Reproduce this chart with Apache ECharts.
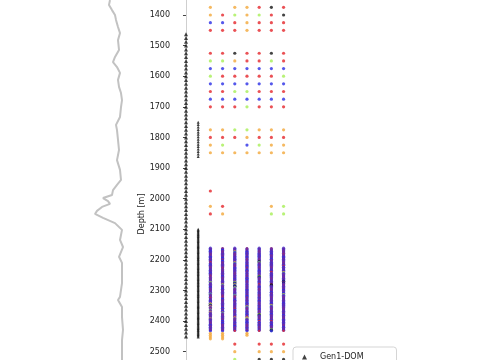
<!DOCTYPE html>
<html><head><meta charset="utf-8">
<script src="https://cdn.jsdelivr.net/npm/echarts@6/dist/echarts.min.js"></script>
<style>html,body{margin:0;padding:0;background:#fff}#c{width:485px;height:360px}</style>
</head><body><div id="c"></div>
<script>
// ---- log track (left) ----
const logDepth = [1351,1367,1384,1400,1416,1439,1459,1482,1514,1537,1554,1570,1589,1612,1635,1655,1678,1701,1733,1759,1776,1808,1841,1874,1906,1939,1955,1972,1988,1998,2008,2017,2027,2040,2050,2063,2080,2102,2135,2158,2190,2210,2243,2276,2321,2331,2354,2387,2429,2462,2494,2527];
const logValue = [25,24,27,30,31,33,35,33,34,30,28,32,35,33,34,36,37,36,35,31,32,33,34,32,35,36,32,28,27,18,23,25,17,12,10,18,30,37,35,38,34,37,37,37,35,33,37,37,38,37,37,37];

// ---- Gen1-DOM triangles (column 0) ----
const gen1Depths = [1462.5,1475,1487.5,1500,1512.5,1525,1537.5,1550,1562.5,1575,1587.5,1600,1612.5,1625,1637.5,1650,1662.5,1675,1687.5,1700,1712.5,1725,1737.5,1750,1762.5,1775,1787.5,1800,1812.5,1825,1837.5,1850,1862.5,1875,1887.5,1900,1912.5,1925,1937.5,1950,1962.5,1975,1987.5,2000,2012.5,2025,2037.5,2050,2062.5,2075,2087.5,2100,2112.5,2125,2137.5,2150,2162.5,2175,2187.5,2200,2212.5,2225,2237.5,2250,2262.5,2275,2287.5,2300,2312.5,2325,2337.5,2350,2362.5,2375,2387.5,2400,2412.5,2425,2437.5,2450];
// ---- second triangle column (column 1) ----
const col2Depths = [1750,1758,1766,1774,1782,1790,1798,1806,1814,1822,1830,1838,1846,1854,1862,
2100,2104,2108,2112,2116,2120,2124,2128,2132,2136,2140,2144,2148,2152,2156,2160,2164,2168,2172,2176,2180,2184,2188,2192,2196,2200,2204,2208,2212,2216,2220,2224,2228,2232,2236,2240,2244,2248,2252,2256,2260,2264,2268,2272,2276,2280,2284,2288,2292,2296,2300,2304,2308,2312,2316,2320,2324,2328,2332,2336,2340,2344,2348,2352,2356,2360,2364,2368,2372,2376,2380,2384,2388,2392,2396,2400,2404,2408,2412,2416,2420,2424,2428,2432,2436,2440,2444,2448,2452];

// ---- classified sample rows (7 columns; r red, o orange, g green, b blue, k black, . none) ----
const rowDepths = [1375,1400,1425,1450,1525,1550,1575,1600,1625,1650,1675,1700,1775,1800,1825,1850,1975,2025,2050,2440,2446,2452,2458,2475,2500,2525];
const rowCodes = ["o.oorkr","orgogrk","bbrorrr","rrrorrr","rrkrrkr","ggorrgr","bbbbbbb","grrrrrg","bbbbbbb","rrggrrr","bbbbbbb","rrrgrrr","ooggooo","rrrorrr","og.bgoo","ooooooo","r......","or...og","ro...gg","oo.o...","oo.o...","oo.....","oo.....","..r.rrr","..o.ooo","..g.kkk"];

// ---- dense intervals: one sample every 2 m from 2162 m to 2432 m ----
const denseStart = 2162, denseStep = 2;
const denseCols = [
"brbrbbrbrb"+"rbrbrbbrbr"+"brbrrbrbbr"+"brbrbrbrbr"+"bbrbrbrrbr"+"brbrbrgbrb"+"rbrbbrbrbr"+"brbrbgbrbr"+"brrbrbrbbr"+"bogkbrobrb"+"rgbrbobrbr"+"brbrbobrbr"+"brbrbrbbrb"+"rbrbrb",
"rbrbbrbrbr"+"brbrbrbbrb"+"rbbrbrbrbr"+"brbrrbrbrb"+"rbrbrbbrbr"+"brbrbrbrbr"+"gbrbrbrbbr"+"brbrbrbrbr"+"rbrbbrbrbr"+"brbrbrbrbb"+"rbrbbrgbrb"+"rbrbrbrbrb"+"brbbrbrbrb"+"rbrbrb",
"brbrbrgbrb"+"rbrbrbrbbr"+"brbrgbrbrb"+"rbrbbrbrbr"+"brbrbrbrbr"+"bbrbrbgkbr"+"gbkbrgbrbr"+"brbrbrbgbr"+"rbrbrbbrbr"+"brbrbrbrbr"+"rbbrbrbrbr"+"brbrobrbrb"+"rbrbrbrbbr"+"brbrbr",
"rbrbrbrbbr"+"brbrbbrbrb"+"rbrbrbrbrb"+"brbrbrbbrb"+"rbrbrbrbrb"+"brbbrbrbrb"+"rbrbrbrbrb"+"brbrbrbrbb"+"rbrbrbrbrb"+"brbrbrgbrb"+"rbrbrbrbbr"+"brbrogbrbr"+"bbrbrbrbrb"+"rbrbrb",
"brbrbrbrbr"+"brbbrbrbrb"+"rbkgbrbrbr"+"brbrbrbrbb"+"rbrbrbgkbr"+"brbrbrbrbr"+"rbrbbrbrbr"+"brbrbrbrbr"+"brbrbrbbrb"+"rbrbrbrbrb"+"brbrbrbrgk"+"brbrbrbrbr"+"rbbrbrbrbr"+"brbrbr",
"rbrbrbrbrb"+"brbrbrbrbb"+"rbrbrbbrbr"+"brbrbrbrbr"+"rbrbbrbrbr"+"brbrbrbrbr"+"kkbrbrbrbr"+"brbbrbrbrb"+"rbrbrbrbrb"+"brbrgbrbrb"+"rbrbrbrbbr"+"brbrbrbrbr"+"rbrbrbbrbr"+"brbgkb",
"brbrbrbrbr"+"rbrbrbbrbr"+"brbrbrbrbr"+"rbbrbrbrbr"+"gbrbrbrbrb"+"rbrbkbrkbr"+"brbrbrbrbb"+"rbrbbrgbrb"+"rbrbrbrbrb"+"brbbrbrbrb"+"rbrbrbrbrb"+"brbrbrbrbb"+"rbrbrbrbrb"+"brbrbr"
];

const yTicksMin = 1300, yTicksMax = 2800, yTickStep = 100;

const COLORS = {r:'#e5262a', o:'#f3a83a', g:'#a6ef55', b:'#2b2ee6', k:'#141414'};
const xCols = [2,3,4,5,6,7,8];
const pts = {r:[],o:[],g:[],b:[],k:[]};
rowDepths.forEach((d,i)=>{ rowCodes[i].split('').forEach((c,j)=>{ if(pts[c]) pts[c].push([xCols[j], d]); }); });
// dense columns keep depth order so colours interleave when overlapping
const denseSeries = denseCols.map((s,j)=>({
  name:'dense-'+j, type:'scatter', xAxisIndex:1, yAxisIndex:1, symbol:'circle',
  data: s.split('').map((c,i)=>({value:[xCols[j], denseStart + denseStep*i],
        symbolSize: c==='r' ? 2.5 : 3.3, itemStyle:{color:COLORS[c]}}))
}));

const FONT = 'DejaVu Sans';
const gridTop = -15.6, gridH = 459.1;
const chart = echarts.init(document.getElementById('c'), null, {renderer:'canvas'});
const order = ['b','r','o','g','k'];
chart.setOption({
  animation:false,
  backgroundColor:'#fff',
  grid:[
    {left:85, width:50, top:gridTop, height:gridH, outerBoundsMode:'none', containLabel:false},
    {left:175, width:122, top:gridTop, height:gridH, outerBoundsMode:'none', containLabel:false}
  ],
  xAxis:[
    {gridIndex:0, type:'value', min:0, max:50, show:false},
    {gridIndex:1, type:'value', min:-0.9, max:9.1, show:false}
  ],
  yAxis:[
    {gridIndex:0, type:'value', inverse:true, min:yTicksMin, max:yTicksMax, show:false},
    {gridIndex:1, type:'value', inverse:true, min:yTicksMin, max:yTicksMax, interval:yTickStep,
     name:'Depth [m]', nameLocation:'middle', nameGap:24, nameRotate:90,
     nameTextStyle:{fontFamily:FONT, fontSize:8, color:'#222'},
     axisLine:{show:true, lineStyle:{color:'#cfcfcf', width:1}},
     axisTick:{show:true, length:3, lineStyle:{color:'#444'}},
     axisLabel:{fontFamily:FONT, fontSize:8, color:'#222', margin:5, formatter:v=>String(v)},
     splitLine:{show:false}}
  ],
  legend:{
    data:['Gen1-DOM'], orient:'vertical', left:293, top:347,
    padding:[6,33,6,9], itemWidth:5, itemHeight:5, itemGap:6,
    borderColor:'#d5d5d5', borderWidth:1, borderRadius:3, backgroundColor:'#fff',
    textStyle:{fontFamily:FONT, fontSize:8, color:'#222', padding:[0,0,0,8]}
  },
  series:[
    {type:'line', xAxisIndex:0, yAxisIndex:0, data:logDepth.map((d,i)=>[logValue[i], d]),
     showSymbol:false, lineStyle:{color:'#c2c2c2', width:2}, silent:true},
    {name:'Gen1-DOM', type:'scatter', xAxisIndex:1, yAxisIndex:1, symbol:'triangle', symbolSize:4,
     itemStyle:{color:'#111'}, data:gen1Depths.map(d=>[0,d])},
    {name:'col2', type:'scatter', xAxisIndex:1, yAxisIndex:1, symbol:'triangle', symbolSize:3,
     itemStyle:{color:'#111'}, data:col2Depths.map(d=>[1,d])}
  ].concat(denseSeries).concat(order.map(c=>({
     name:'cls-'+c, type:'scatter', xAxisIndex:1, yAxisIndex:1, symbol:'circle', symbolSize:3.2,
     itemStyle:{color:COLORS[c]}, data:pts[c]
  })))
});
</script></body></html>
